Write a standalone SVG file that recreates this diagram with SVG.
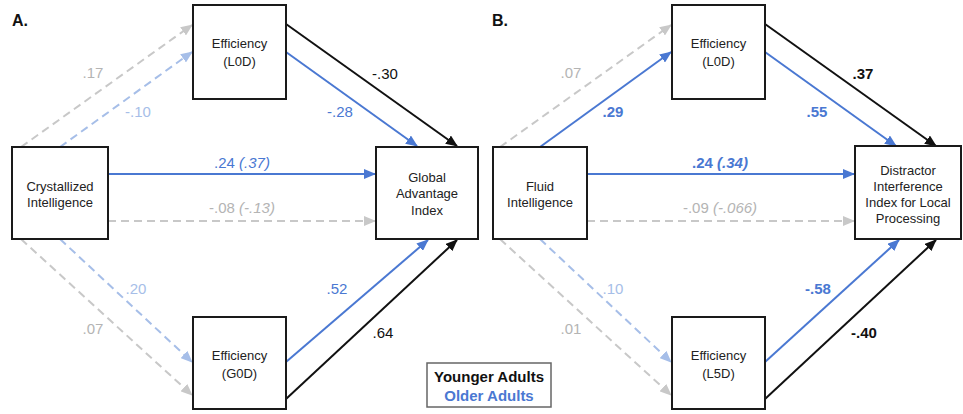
<svg xmlns="http://www.w3.org/2000/svg" width="963" height="414" viewBox="0 0 963 414">
<style>
.box{fill:#fff;stroke:#1a1a1a;stroke-width:2}
.nt{font-family:"Liberation Sans",Arial,sans-serif;font-size:13px;fill:#222;text-anchor:middle}
.lb{font-family:"Liberation Sans",Arial,sans-serif;font-size:15px;text-anchor:middle}
.pl{font-family:"Liberation Sans",Arial,sans-serif;font-size:16px;font-weight:bold;fill:#111}
.b{font-weight:bold}
.i{font-style:italic}
.cblk{fill:#111}.cblu{fill:#4a78d2}.clb{fill:#a6bee8}.cgr{fill:#b4b4b4}
.e{fill:none;stroke-width:2}
.sblk{stroke:#111;marker-end:url(#mblk)}
.sblu{stroke:#4a78d2;marker-end:url(#mblu)}
.slb{stroke:#a6bee8;stroke-dasharray:8 5;marker-end:url(#mlb)}
.sgr{stroke:#c8c8c8;stroke-dasharray:8 5;marker-end:url(#mgr)}
</style>
<defs>
<marker id="mblk" viewBox="0 0 12 10" refX="11" refY="5" markerWidth="12" markerHeight="10" markerUnits="userSpaceOnUse" orient="auto"><path d="M0,0L12,5L0,10z" fill="#111"/></marker>
<marker id="mblu" viewBox="0 0 12 10" refX="11" refY="5" markerWidth="12" markerHeight="10" markerUnits="userSpaceOnUse" orient="auto"><path d="M0,0L12,5L0,10z" fill="#4a78d2"/></marker>
<marker id="mlb" viewBox="0 0 12 10" refX="11" refY="5" markerWidth="12" markerHeight="10" markerUnits="userSpaceOnUse" orient="auto"><path d="M0,0L12,5L0,10z" fill="#a6bee8"/></marker>
<marker id="mgr" viewBox="0 0 12 10" refX="11" refY="5" markerWidth="12" markerHeight="10" markerUnits="userSpaceOnUse" orient="auto"><path d="M0,0L12,5L0,10z" fill="#c8c8c8"/></marker>
</defs>
<rect width="963" height="414" fill="#fff"/>
<text class="pl" x="12" y="26">A.</text>
<text class="pl" x="492" y="26">B.</text>
<g id="connectors">
<!-- Panel A -->
<line class="e sgr" x1="21" y1="147" x2="192" y2="25"/>
<line class="e slb" x1="60" y1="147" x2="192" y2="52"/>
<line class="e sblk" x1="286" y1="24" x2="457" y2="146"/>
<line class="e sblu" x1="286" y1="52" x2="417" y2="146"/>
<line class="e sblu" x1="108" y1="174" x2="375" y2="174"/>
<line class="e sgr" x1="108" y1="221" x2="375" y2="221"/>
<line class="e sgr" x1="21" y1="239" x2="192" y2="395"/>
<line class="e slb" x1="60" y1="239" x2="192" y2="362"/>
<line class="e sblu" x1="286" y1="362" x2="428" y2="240"/>
<line class="e sblk" x1="286" y1="399" x2="457" y2="240"/>
<!-- Panel B -->
<line class="e sgr" x1="500" y1="147" x2="671" y2="25"/>
<line class="e sblu" x1="540" y1="147" x2="671" y2="52"/>
<line class="e sblk" x1="765" y1="24" x2="936" y2="146"/>
<line class="e sblu" x1="765" y1="52" x2="896" y2="146"/>
<line class="e sblu" x1="587" y1="174" x2="854" y2="174"/>
<line class="e sgr" x1="587" y1="221" x2="854" y2="221"/>
<line class="e sgr" x1="500" y1="239" x2="671" y2="395"/>
<line class="e slb" x1="540" y1="239" x2="671" y2="362"/>
<line class="e sblu" x1="765" y1="362" x2="899" y2="240"/>
<line class="e sblk" x1="765" y1="399" x2="936" y2="240"/>
</g>
<g id="labels">
<text class="lb cgr" x="93" y="78">.17</text>
<text class="lb clb" x="138" y="117">-.10</text>
<text class="lb cblk" x="385" y="79">-.30</text>
<text class="lb cblu" x="340" y="117">-.28</text>
<text class="lb cblu" x="242" y="168">.24 <tspan class="i">(.37)</tspan></text>
<text class="lb cgr" x="242" y="213">-.08 <tspan class="i">(-.13)</tspan></text>
<text class="lb clb" x="136" y="294">.20</text>
<text class="lb cgr" x="93" y="334">.07</text>
<text class="lb cblu" x="337" y="294">.52</text>
<text class="lb cblk" x="383" y="338">.64</text>
<text class="lb cgr" x="571" y="78">.07</text>
<text class="lb cblu b" x="613" y="117">.29</text>
<text class="lb cblk b" x="863" y="79">.37</text>
<text class="lb cblu b" x="817" y="117">.55</text>
<text class="lb cblu b" x="720" y="168">.24 <tspan class="i">(.34)</tspan></text>
<text class="lb cgr" x="720" y="213">-.09 <tspan class="i">(-.066)</tspan></text>
<text class="lb clb" x="613" y="294">.10</text>
<text class="lb cgr" x="571" y="334">.01</text>
<text class="lb cblu b" x="818" y="294">-.58</text>
<text class="lb cblk b" x="864" y="338">-.40</text>
</g>
<g id="nodeA_L0D"><rect class="box" x="193" y="5" width="93" height="94"/><text class="nt" x="239.5" y="48">Efficiency</text><text class="nt" x="239.5" y="66">(L0D)</text></g>
<g id="nodeA_Cryst"><rect class="box" x="12" y="147" width="96" height="92"/><text class="nt" x="60" y="191">Crystallized</text><text class="nt" x="60" y="207">Intelligence</text></g>
<g id="nodeA_Global"><rect class="box" x="376" y="147" width="102" height="92"/><text class="nt" x="427" y="182">Global</text><text class="nt" x="427" y="198">Advantage</text><text class="nt" x="427" y="215">Index</text></g>
<g id="nodeA_G0D"><rect class="box" x="193" y="317" width="93" height="92"/><text class="nt" x="239.5" y="360">Efficiency</text><text class="nt" x="239.5" y="378">(G0D)</text></g>
<g id="nodeB_L0D"><rect class="box" x="672" y="5" width="93" height="94"/><text class="nt" x="718.5" y="48">Efficiency</text><text class="nt" x="718.5" y="66">(L0D)</text></g>
<g id="nodeB_Fluid"><rect class="box" x="493" y="147" width="94" height="92"/><text class="nt" x="540" y="191">Fluid</text><text class="nt" x="540" y="207">Intelligence</text></g>
<g id="nodeB_Distractor"><rect class="box" x="855" y="146" width="106" height="93"/><text class="nt" x="908" y="175">Distractor</text><text class="nt" x="908" y="191">Interference</text><text class="nt" x="908" y="207">Index for Local</text><text class="nt" x="908" y="223">Processing</text></g>
<g id="nodeB_L5D"><rect class="box" x="672" y="317" width="93" height="92"/><text class="nt" x="718.5" y="360">Efficiency</text><text class="nt" x="718.5" y="378">(L5D)</text></g>
<g id="legend"><rect x="427" y="363" width="124" height="44" fill="#fff" stroke="#666" stroke-width="1.5"/><text class="lb b cblk" x="489" y="382">Younger Adults</text><text class="lb b cblu" x="489" y="401">Older Adults</text></g>
</svg>
